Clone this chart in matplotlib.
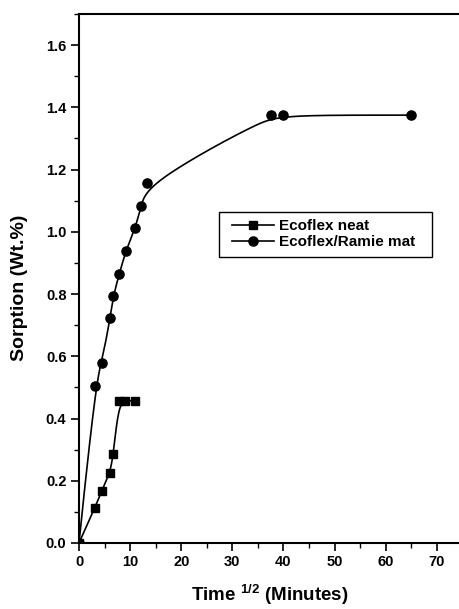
import numpy as np
import matplotlib
matplotlib.use("Agg")
import matplotlib.pyplot as plt
from matplotlib.ticker import MultipleLocator
from matplotlib.patches import Rectangle

plt.rcParams['font.family'] = ['Liberation Sans', 'DejaVu Sans']
plt.rcParams['font.weight'] = 'bold'
plt.rcParams['mathtext.fontset'] = 'custom'
plt.rcParams['mathtext.rm'] = 'Liberation Sans:bold'
plt.rcParams['mathtext.bf'] = 'Liberation Sans:bold'

# Data
neat_x = [0, 3.08, 4.45, 6.08, 6.73, 7.8, 9.0, 11.0]
neat_y = [0, 0.112, 0.168, 0.226, 0.285, 0.457, 0.457, 0.457]
ramie_x = [0, 3.14, 4.45, 6.08, 6.73, 7.9, 9.16, 10.98, 12.2, 13.4, 37.6, 39.9, 64.9]
ramie_y = [0, 0.504, 0.577, 0.722, 0.795, 0.866, 0.939, 1.011, 1.084, 1.157, 1.375, 1.375, 1.375]
labels = ["Ecoflex neat", "Ecoflex/Ramie mat"]


def bspline(x, y, n=600, k=3):
    P = np.column_stack([x, y]).astype(float)
    m = len(P)
    knots = np.concatenate([np.zeros(k), np.linspace(0, 1, m - k + 1), np.ones(k)])
    out = []
    for t in np.linspace(0, 1, n):
        i = np.searchsorted(knots, t, side='right') - 1
        i = min(max(i, k), m - 1)
        d = [P[j + i - k].copy() for j in range(k + 1)]
        for r in range(1, k + 1):
            for j in range(k, r - 1, -1):
                den = knots[j + 1 + i - r] - knots[j + i - k]
                a = 0.0 if den == 0 else (t - knots[j + i - k]) / den
                d[j] = (1 - a) * d[j - 1] + a * d[j]
        out.append(d[k])
    out = np.array(out)
    return out[:, 0], out[:, 1]


W, H = 460, 609
fig = plt.figure(figsize=(W / 100, H / 100), dpi=100)
L, R, B, T = 79, 460, 543, 14
ax = fig.add_axes([L / W, (H - B) / H, (R - L) / W, (B - T) / H])

nx, ny = bspline(neat_x, neat_y)
rx, ry = bspline(ramie_x, ramie_y)
ax.plot(nx, ny, color='black', lw=1.2, zorder=2)
ax.plot(rx, ry, color='black', lw=1.2, zorder=2)
ax.plot(neat_x, neat_y, 's', color='black', ms=5.3, zorder=3)
ax.plot(ramie_x, ramie_y, 'o', color='black', ms=6.6, zorder=3)

# legend
h1, = ax.plot([], [], '-s', color='black', lw=1.2, ms=5.3)
h2, = ax.plot([], [], '-o', color='black', lw=1.2, ms=6.6)
leg = fig.legend([h1, h2], labels, loc='center left',
                 bbox_to_anchor=(232 / W, (H - 234) / H),
                 frameon=False, prop={'weight': 'bold', 'size': 11},
                 handlelength=2.75, handletextpad=0.3, borderpad=0,
                 labelspacing=0.15, borderaxespad=0)
fig.patches.append(Rectangle((219 / W, (H - 257) / H), (432 - 219) / W, 45 / H,
                             transform=fig.transFigure, fill=False,
                             edgecolor='black', linewidth=1.0, zorder=5))

ax.set_xlim(0, (R - L) / 5.11)
ax.set_ylim(0, 1.7)
ax.xaxis.set_major_locator(MultipleLocator(10))
ax.xaxis.set_minor_locator(MultipleLocator(5))
ax.yaxis.set_major_locator(MultipleLocator(0.2))
ax.yaxis.set_minor_locator(MultipleLocator(0.1))
ax.yaxis.set_major_formatter(matplotlib.ticker.FormatStrFormatter('%.1f'))
ax.tick_params(which='major', direction='out', length=6, width=1.2, labelsize=10.5, pad=3)
ax.tick_params(which='minor', direction='out', length=3.5, width=1.0)
ax.spines['right'].set_visible(False)
for s in ['left', 'bottom', 'top']:
    ax.spines[s].set_linewidth(1.5)
for lab in ax.get_xticklabels() + ax.get_yticklabels():
    lab.set_fontweight('bold')

fig.text(270 / W, (H - 595) / H, r"Time $^{1/2}$ (Minutes)", ha='center', va='center',
         fontsize=13.5, fontweight='bold')
fig.text(20 / W, (H - 288) / H, "Sorption (Wt.%)", ha='center', va='center',
         rotation=90, fontsize=14, fontweight='bold')

fig.savefig('out.png', dpi=100)
